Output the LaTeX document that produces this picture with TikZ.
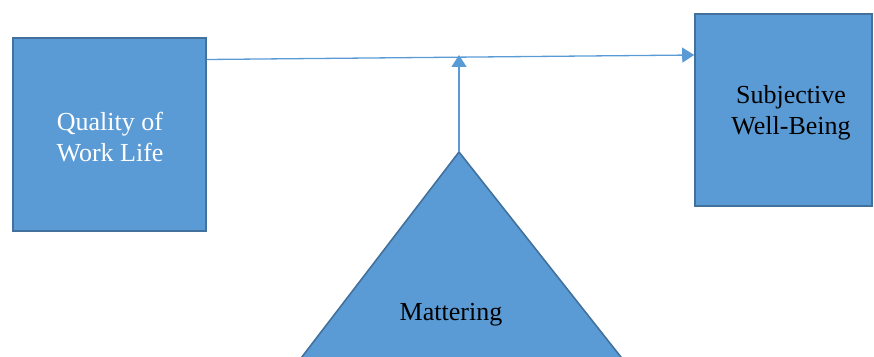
\documentclass[tikz,border=0pt]{standalone}
\usepackage{fontspec}
\setmainfont{Liberation Serif}
\usetikzlibrary{arrows.meta}
\definecolor{boxfill}{HTML}{5B9BD5}
\definecolor{boxline}{HTML}{41719C}
\definecolor{arrowc}{HTML}{5B9BD5}
\tikzset{
  blockbox/.style={draw=boxline, fill=boxfill, line width=1.6pt, inner sep=0pt, align=center, font=\fontsize{26}{31}\selectfont},
  conn/.style={draw=arrowc, line width=1.3pt, -{Triangle[length=12pt,width=15pt]}},
  lbl/.style={align=center, font=\fontsize{26}{31}\selectfont, inner sep=0pt}
}
\begin{document}
\begin{tikzpicture}[x=1pt,y=1pt]
\useasboundingbox (0,0) rectangle (874,356);
\begin{scope}
\clip (0,0) rectangle (874,356);
\node[blockbox, minimum width=193pt, minimum height=193pt, text=white] (qwl) at (109.5,221.5) {};
\node[lbl, text=white] (qwltext) at (110,219) {Quality of\\Work Life};
\node[blockbox, minimum width=177pt, minimum height=192pt, text=black] (swb) at (783.5,246) {};
\node[lbl] (swbtext) at (791,243) {Subjective\\Well-Being};
\coordinate (apex) at (459,204);
\draw[draw=boxline, fill=boxfill, line width=1.6pt] (apex) -- (628,-10) -- (295,-10) -- cycle;
\node[lbl] (mat) at (451,41) {Mattering};
\coordinate (start) at ([yshift=75pt]qwl.east);
\coordinate (end) at ([yshift=55pt]swb.west);
\coordinate (meet) at (459,301);
\draw[conn] (start) -- (end);
\draw[conn] (apex) -- (meet);
\end{scope}
\end{tikzpicture}
\end{document}
